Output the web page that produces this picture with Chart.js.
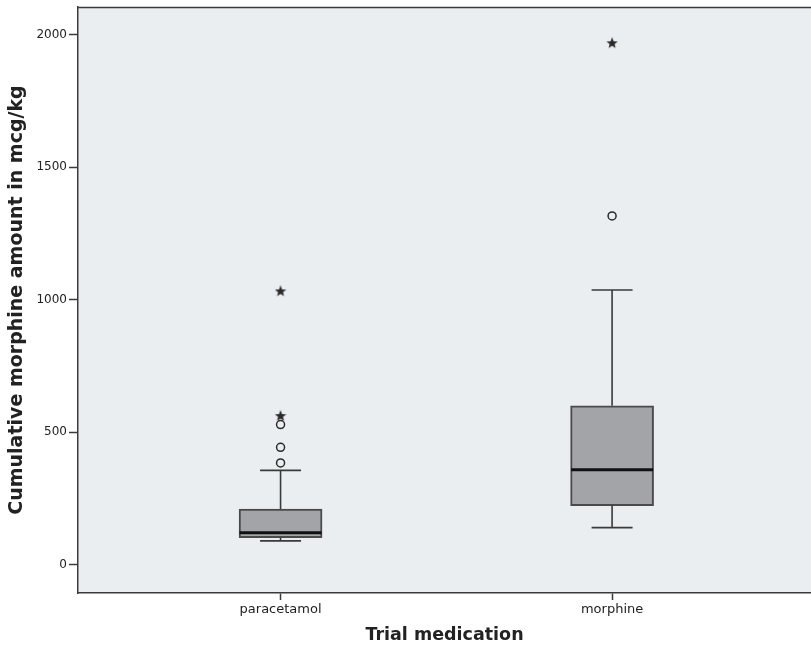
<!DOCTYPE html>
<html>
<head>
<meta charset="utf-8">
<script src="https://cdn.jsdelivr.net/npm/chart.js@4"></script>
<style>
  html, body { margin: 0; padding: 0; background: #fff; }
  #grafico { display: block; }
</style>
</head>
<body>
<canvas id="grafico" width="811" height="649"></canvas>
<script>
// dados
const categories = ["paracetamol", "morphine"];
const whiskerLow = [89, 139];
const q1 = [101, 222];
const median = [120, 357];
const q3 = [209, 599];
const whiskerHigh = [355, 1036];
const outliers = [[383, 442, 528], [1316]];
const extremes = [[560, 1031], [1968]];
const yTicks = [0, 500, 1000, 1500, 2000];

const corTexto = "#222";
const corLinha = "#3a3a3a";

// estrela de 5 pontas (valores extremos)
function criarEstrela(tam) {
  const c = document.createElement("canvas");
  c.width = tam; c.height = tam;
  const g = c.getContext("2d");
  const cx = tam / 2, cy = tam / 2, rExt = tam / 2, rInt = tam / 4.6;
  g.beginPath();
  for (let i = 0; i < 10; i++) {
    const r = i % 2 === 0 ? rExt : rInt;
    const ang = -Math.PI / 2 + i * Math.PI / 5;
    const px = cx + r * Math.cos(ang), py = cy + r * Math.sin(ang);
    if (i === 0) g.moveTo(px, py); else g.lineTo(px, py);
  }
  g.closePath();
  g.fillStyle = "#2a2a2a";
  g.fill();
  return c;
}
const estrela = criarEstrela(12);

// pontos
const pontosOutlier = [];
outliers.forEach((lista, i) => lista.forEach(v => pontosOutlier.push({ x: i + 1, y: v })));
const pontosExtremo = [];
extremes.forEach((lista, i) => lista.forEach(v => pontosExtremo.push({ x: i + 1, y: v })));

const caixas = categories.map((c, i) => ({ x: i + 1, y: [q1[i], q3[i]] }));

//  fundo + bigodes + mediana
const boxPlugin = {
  id: "boxPlugin",
  beforeDraw(chart) {
    const { ctx, chartArea: a } = chart;
    ctx.save();
    ctx.fillStyle = "#ebeef0";
    ctx.fillRect(a.left, a.top, a.right - a.left, a.bottom - a.top);
    ctx.strokeStyle = corLinha;
    ctx.lineWidth = 1.5;
    ctx.beginPath();
    ctx.moveTo(a.left, a.top + 0.5);
    ctx.lineTo(a.right, a.top + 0.5);
    ctx.stroke();
    ctx.restore();
  },
  afterDatasetsDraw(chart) {
    const { ctx, scales } = chart;
    const xs = scales.x, ys = scales.y;
    ctx.save();
    categories.forEach((c, i) => {
      const x = xs.getPixelForValue(i + 1);
      const yLo = ys.getPixelForValue(whiskerLow[i]);
      const yQ1 = ys.getPixelForValue(q1[i]);
      const yQ3 = ys.getPixelForValue(q3[i]);
      const yHi = ys.getPixelForValue(whiskerHigh[i]);
      const yMed = ys.getPixelForValue(median[i]);

      ctx.strokeStyle = corLinha;
      ctx.lineWidth = 1.6;
      ctx.beginPath();
      ctx.moveTo(x, yQ3); ctx.lineTo(x, yHi);
      ctx.moveTo(x, yQ1); ctx.lineTo(x, yLo);
      ctx.moveTo(x - 20.5, yHi); ctx.lineTo(x + 20.5, yHi);
      ctx.moveTo(x - 20.5, yLo); ctx.lineTo(x + 20.5, yLo);
      ctx.stroke();

      ctx.strokeStyle = "#111";
      ctx.lineWidth = 3;
      ctx.beginPath();
      ctx.moveTo(x - 41, yMed); ctx.lineTo(x + 41, yMed);
      ctx.stroke();
    });
    ctx.restore();
  }
};

const ctx = document.getElementById("grafico");

new Chart(ctx, {
  data: {
    datasets: [
      {
        type: "bar",
        data: caixas,
        backgroundColor: "#a2a4a8",
        borderColor: "#4a4a4a",
        borderWidth: 2,
        borderSkipped: false,
        barThickness: 83
      },
      {
        type: "scatter",
        data: pontosOutlier,
        pointStyle: "circle",
        pointRadius: 4,
        borderWidth: 1.5,
        borderColor: "#2a2a2a",
        backgroundColor: "rgba(0,0,0,0)"
      },
      {
        type: "scatter",
        data: pontosExtremo,
        pointStyle: estrela,
        pointRadius: 6
      }
    ]
  },
  plugins: [boxPlugin],
  options: {
    responsive: false,
    animation: false,
    devicePixelRatio: 1,
    layout: { autoPadding: false, padding: { top: 7, right: 0, left: 0, bottom: 0 } },
    plugins: {
      legend: { display: false },
      tooltip: { enabled: false }
    },
    scales: {
      x: {
        type: "linear",
        min: 0.389,
        max: 2.6,
        offset: false,
        afterBuildTicks: s => { s.ticks = categories.map((c, i) => ({ value: i + 1 })); },
        afterFit: s => { s.height = 56; s.paddingLeft = 0; s.paddingRight = 0; },
        grid: {
          display: true,
          offset: false,
          drawOnChartArea: false,
          drawTicks: true,
          tickLength: 7,
          tickWidth: 1.5,
          tickColor: corLinha
        },
        border: { display: true, color: corLinha, width: 1.5 },
        ticks: {
          padding: 2,
          color: corTexto,
          font: { family: "DejaVu Sans", size: 13 },
          callback: v => categories[v - 1] || ""
        },
        title: {
          display: true,
          text: "Trial medication",
          color: corTexto,
          font: { family: "DejaVu Sans", size: 17.5, weight: "bold" },
          padding: { top: 0, bottom: 3 }
        }
      },
      y: {
        type: "linear",
        min: -108,
        max: 2105,
        afterBuildTicks: s => { s.ticks = yTicks.map(v => ({ value: v })); },
        afterFit: s => { s.width = 78; s.paddingTop = 0; s.paddingBottom = 0; },
        grid: {
          display: true,
          drawOnChartArea: false,
          drawTicks: true,
          tickLength: 9,
          tickWidth: 1.5,
          tickColor: corLinha
        },
        border: { display: true, color: corLinha, width: 1.5 },
        ticks: {
          padding: 2,
          color: corTexto,
          font: { family: "DejaVu Sans", size: 12 },
          callback: v => String(v)
        },
        title: {
          display: true,
          text: "Cumulative morphine amount in mcg/kg",
          color: corTexto,
          font: { family: "DejaVu Sans", size: 19, weight: "bold" },
          padding: { top: 5.5, bottom: 0 }
        }
      }
    }
  }
});
</script>
</body>
</html>
